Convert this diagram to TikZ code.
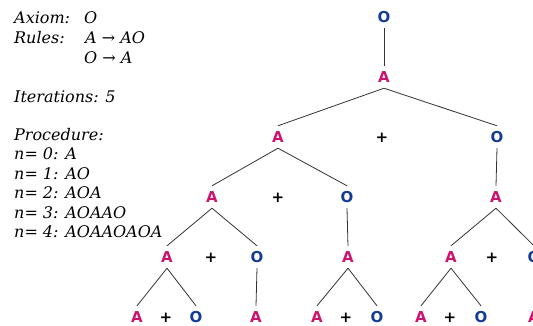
\documentclass[tikz,border=0pt]{standalone}
\usepackage{fontspec}
\newfontfamily\notefont{DejaVu Serif}
\newfontfamily\treefont{DejaVu Sans}
\definecolor{acol}{RGB}{204,20,110}
\definecolor{ocol}{RGB}{20,60,150}

\begin{document}
\begin{tikzpicture}[x=1pt,y=-1pt,
  note/.style={anchor=base west, inner sep=0pt,
    font=\notefont\itshape\fontsize{16}{19}\selectfont},
  sym/.style={inner sep=0pt, minimum height=22pt, minimum width=10pt,
    font=\treefont\bfseries\fontsize{15}{17}\selectfont},
  anode/.style={sym, text=acol},
  onode/.style={sym, text=ocol},
  plus/.style={sym, text=black},
  edge/.style={draw=black!80, line width=0.8pt}]
\useasboundingbox (0,0) rectangle (533,325);
\clip (0,0) rectangle (533,325);

% description of the L-system
\node[note] (axl) at (14,23) {Axiom:};
\node[note] (axv) at (84,23) {O};
\node[note] (rul) at (14,43) {Rules:};
\node[note] (r1) at (85,43) {A → AO};
\node[note] (r2) at (84,63) {O → A};
\node[note] (it) at (14,102) {Iterations: 5};
\node[note] (pr) at (14,140) {Procedure:};
\node[note] (n0) at (14,159) {n= 0: A};
\node[note] (n1) at (14,179) {n= 1: AO};
\node[note] (n2) at (14,198) {n= 2: AOA};
\node[note] (n3) at (14,218) {n= 3: AOAAO};
\node[note] (n4) at (14,237) {n= 4: AOAAOAOA};

% derivation tree
\node[onode] (O0) at (384,17) {O};
\node[anode] (A1) at (384,77) {A};

\node[anode] (A2) at (278,137) {A};
\node[plus]  (p2) at (382,138) {+};
\node[onode] (O2) at (497,137) {O};

\node[anode] (A3a) at (212,197) {A};
\node[plus]  (p3a) at (278,198) {+};
\node[onode] (O3a) at (347,197) {O};
\node[anode] (A3b) at (496,197) {A};

\node[anode] (A4a) at (167,257) {A};
\node[plus]  (p4a) at (211,258) {+};
\node[onode] (O4a) at (257,257) {O};
\node[anode] (A4b) at (348,257) {A};
\node[anode] (A4c) at (451,257) {A};
\node[plus]  (p4c) at (492,258) {+};
\node[onode] (O4c) at (534,257) {O};

\node[anode] (A5a) at (137,317) {A};
\node[plus]  (p5a) at (166,318) {+};
\node[onode] (O5a) at (196,317) {O};
\node[anode] (A5b) at (256,317) {A};
\node[anode] (A5c) at (317,317) {A};
\node[plus]  (p5c) at (346,318) {+};
\node[onode] (O5c) at (377,317) {O};
\node[anode] (A5d) at (421,317) {A};
\node[plus]  (p5d) at (450,318) {+};
\node[onode] (O5d) at (481,317) {O};
\node[anode] (A5e) at (534,317) {A};

\draw[edge] (O0.south) -- (A1.north);
\draw[edge] (A1.south) -- (A2.north);
\draw[edge] (A1.south) -- (O2.north);
\draw[edge] (A2.south) -- (A3a.north);
\draw[edge] (A2.south) -- (O3a.north);
\draw[edge] (O2.south) -- (A3b.north);
\draw[edge] (A3a.south) -- (A4a.north);
\draw[edge] (A3a.south) -- (O4a.north);
\draw[edge] (O3a.south) -- (A4b.north);
\draw[edge] (A3b.south) -- (A4c.north);
\draw[edge] (A3b.south) -- (O4c.north);
\draw[edge] (A4a.south) -- (A5a.north);
\draw[edge] (A4a.south) -- (O5a.north);
\draw[edge] (O4a.south) -- (A5b.north);
\draw[edge] (A4b.south) -- (A5c.north);
\draw[edge] (A4b.south) -- (O5c.north);
\draw[edge] (A4c.south) -- (A5d.north);
\draw[edge] (A4c.south) -- (O5d.north);
\draw[edge] (O4c.south) -- (A5e.north);
\end{tikzpicture}
\end{document}
